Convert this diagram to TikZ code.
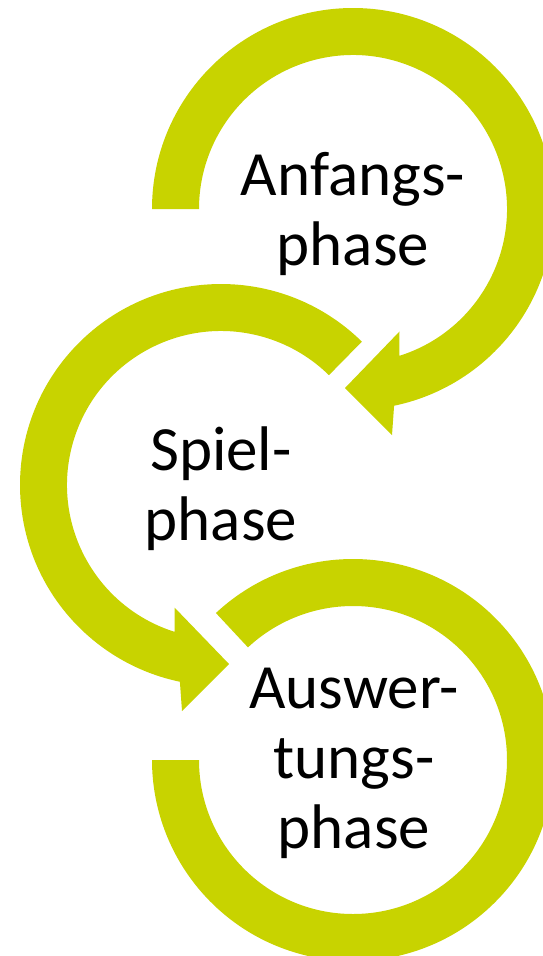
\documentclass[tikz,border=0pt]{standalone}
\usepackage{fontspec}
\setmainfont{Carlito}
\definecolor{ringgreen}{RGB}{200,211,0}
\begin{document}
\begin{tikzpicture}[x=1pt,y=1pt,
  ring/.style={fill=ringgreen},
  phase/.style={font=\fontsize{63}{70}\selectfont, align=center, anchor=base, inner sep=0pt}]
\useasboundingbox (0,0) rectangle (543,-956);
\coordinate (c1) at (353,-209);
\coordinate (c2) at (221,-485);
\coordinate (c3) at (353,-760);
% first ring: clockwise from the left, head pointing down-left
\begin{scope}[shift={(c1)}]
  \fill[ring] (180:201) arc[start angle=180,end angle=-78.2,radius=201]
    -- (39,-226) -- (-8,-179) -- (46.5,-122.5) -- (-72.5:154)
    arc[start angle=-72.5,end angle=180,radius=154] -- cycle;
\end{scope}
% second ring: mirror image, counter-clockwise, head pointing down-right
\begin{scope}[shift={(c2)},xscale=-1]
  \fill[ring] (134.5:201) arc[start angle=134.5,end angle=-78.2,radius=201]
    -- (39,-226) -- (-8,-179) -- (46.5,-122.5) -- (-72.5:154)
    arc[start angle=-72.5,end angle=134.5,radius=154] -- cycle;
\end{scope}
% third ring: open band without a head
\begin{scope}[shift={(c3)}]
  \fill[ring] (133:201) arc[start angle=133,end angle=-180,radius=201]
    -- (180:154) arc[start angle=-180,end angle=133,radius=154] -- cycle;
\end{scope}
% labels, placed by the baseline of their last line
\node[phase] (anfang) at (353,-265) {Anfangs-\\phase};
\node[phase] (spiel) at (221,-540) {Spiel-\\phase};
\node[phase] (auswertung) at (354,-848) {Auswer-\\tungs-\\phase};
\end{tikzpicture}
\end{document}
